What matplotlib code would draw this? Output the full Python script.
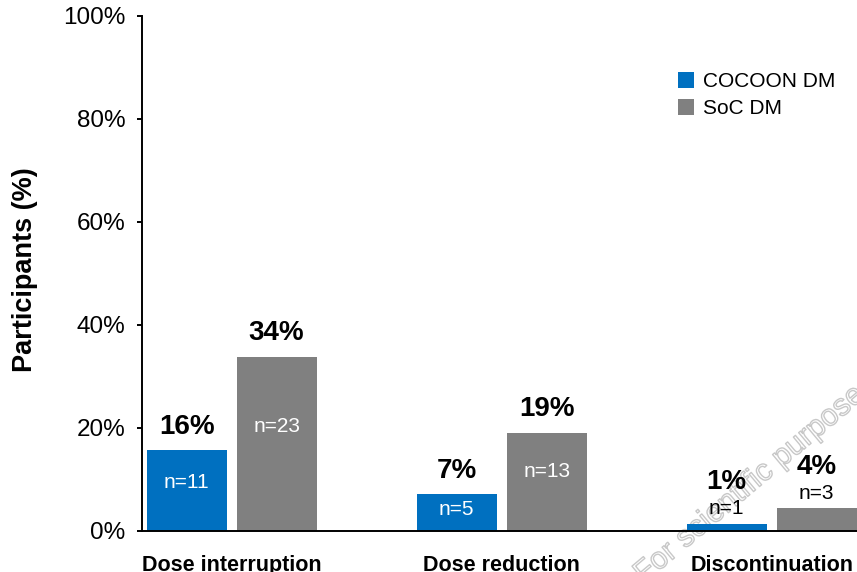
import matplotlib
matplotlib.use('Agg')
import matplotlib.pyplot as plt
import matplotlib.patheffects as pe
import numpy as np

plt.rcParams['font.family'] = ['Liberation Sans', 'DejaVu Sans']

# data
categories = ['Dose interruption', 'Dose reduction', 'Discontinuation']
series_names = ['COCOON DM', 'SoC DM']
cocoon_pct = [15.7, 7.1, 1.4]
soc_pct = [33.8, 19.1, 4.4]
cocoon_n = [11, 5, 1]
soc_n = [23, 13, 3]
colors = ['#0070C0', '#808080']

fig = plt.figure(figsize=(8.57, 5.72), dpi=100)
ax = fig.add_axes([0.1653, 0.0717, 1 - 0.1653, 0.9005])
ax.patch.set_alpha(0)

x = np.arange(len(categories))
width = 0.296
offset = 0.1667

groups = [(cocoon_pct, cocoon_n, -offset, colors[0]),
          (soc_pct, soc_n, offset, colors[1])]

for (pct, ns, off, col), name in zip(groups, series_names):
    ax.bar(x + off, pct, width, color=col, label=name, zorder=2)
    for xi, v, n in zip(x, pct, ns):
        if v > 5:
            # n inside the bar, percentage above
            ax.text(xi + off, v * 0.6, 'n=%d' % n, color='white', fontsize=15,
                    ha='center', va='center', zorder=3)
            ax.annotate('%d%%' % round(v), (xi + off, v), xytext=(0, 17),
                        textcoords='offset points', ha='center', va='center',
                        fontsize=20, fontweight='bold')
        else:
            # small bars: n and percentage both above
            ax.annotate('n=%d' % n, (xi + off, v), xytext=(0, 11),
                        textcoords='offset points', ha='center', va='center',
                        fontsize=15)
            ax.annotate('%d%%' % round(v), (xi + off, v), xytext=(0, 30),
                        textcoords='offset points', ha='center', va='center',
                        fontsize=20, fontweight='bold')

ax.set_ylim(0, 100)
ax.set_xlim(-0.333, 2.316)
ax.set_yticks(np.arange(0, 101, 20))
ax.set_yticklabels(['%d%%' % t for t in range(0, 101, 20)], fontsize=17.5)
ax.set_xticks(x)
ax.set_xticklabels(categories, fontsize=15.5, fontweight='bold')
ax.tick_params(axis='x', length=0, pad=17)
ax.tick_params(axis='y', length=3.6, width=1.4, direction='out', pad=8)

for s in ['top', 'right']:
    ax.spines[s].set_visible(False)
ax.spines['left'].set_linewidth(1.4)
ax.spines['bottom'].set_linewidth(1.4)

fig.text(0.029, 0.528, 'Participants (%)', rotation=90, fontsize=19.5,
         fontweight='bold', ha='center', va='center')

ax.legend(loc='upper left', bbox_to_anchor=(678 / 857, 1 - 72 / 572),
          bbox_transform=fig.transFigure, frameon=False, fontsize=15,
          handlelength=0.77, handleheight=0.77, handletextpad=0.43,
          labelspacing=0.4, borderpad=0, borderaxespad=0)

# hollow watermark behind the axes
fig.text(0.881, 0.161, 'For scientific purposes', rotation=40, fontsize=22,
         color='none', ha='center', va='center', rotation_mode='anchor',
         zorder=-1,
         path_effects=[pe.withStroke(linewidth=1.0, foreground='#c8c8c8')])

fig.savefig('out.png', dpi=100)
